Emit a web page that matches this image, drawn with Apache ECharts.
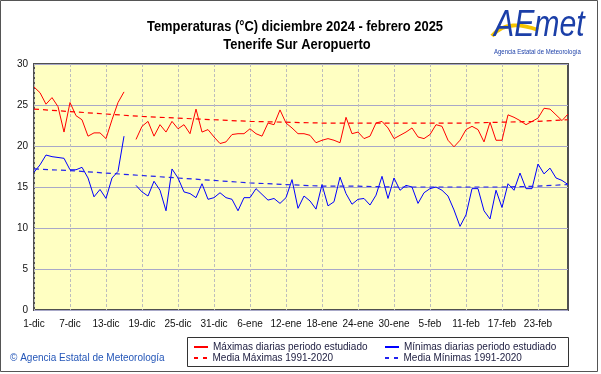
<!DOCTYPE html>
<html><head><meta charset="utf-8">
<script src="https://cdn.jsdelivr.net/npm/echarts@6/dist/echarts.min.js"></script>
<style>html,body{margin:0;padding:0;background:#fff}#c{width:601px;height:374px}</style>
</head><body><div id="c"></div>
<script>
const monthNames = ['dic', 'ene', 'feb'];
const monthDays = [31, 31, 28];
const tickEvery = 6;
const maxT = [27.2,26.5,25.1,25.9,24.8,21.7,25.3,23.7,23.2,21.2,21.6,21.6,20.9,23.2,25.3,26.6,
  null,
  20.8,22.4,23.0,21.2,22.6,21.7,23.0,22.1,22.6,21.5,24.5,21.7,22.0,21.1,20.3,
  20.5,21.4,21.5,21.5,22.1,21.5,21.2,22.8,22.6,24.4,22.8,22.2,21.5,21.5,21.3,20.4,
  20.7,20.9,20.7,20.4,23.5,21.5,21.7,20.9,21.2,22.8,23.0,22.2,20.9,21.3,21.7,22.2,
  21.1,20.9,21.4,22.6,22.4,20.7,19.9,20.7,22.0,22.4,22.0,20.5,22.9,20.7,20.7,23.8,
  23.5,23.1,22.6,23.0,23.4,24.6,24.5,23.8,23.1,23.9];
const minT = [16.8,17.7,18.9,18.7,18.6,18.5,17.1,17.1,17.4,16.1,13.8,14.7,13.6,16.1,16.9,21.2,
  null,
  15.2,14.4,13.9,15.7,14.6,12.1,17.2,16.1,14.4,14.2,13.7,15.4,13.5,13.7,14.3,
  13.7,13.5,12.1,13.7,13.7,14.8,14.1,13.4,13.6,13.0,13.7,15.9,12.4,13.9,13.3,12.3,
  15.3,12.7,13.2,16.2,14.2,12.9,13.5,13.6,12.8,14.0,16.3,13.6,16.1,14.6,15.2,15.0,
  13.0,14.3,14.8,15.0,14.6,13.9,12.2,10.2,11.6,14.8,14.8,12.1,11.1,14.6,12.5,15.4,
  14.6,16.7,14.8,14.8,17.8,16.6,17.3,16.1,15.8,15.3];
const normMaxPts = [[0,24.5],[6,24.2],[12,23.9],[18,23.6],[24,23.4],[30,23.2],[36,23.0],[42,22.9],[48,22.8],[54,22.8],[60,22.8],[66,22.8],[72,22.8],[78,22.9],[84,23.0],[89,23.2]];
const normMinPts = [[0,17.2],[6,17.0],[12,16.7],[18,16.4],[24,16.1],[30,15.8],[36,15.5],[42,15.3],[48,15.1],[54,15.1],[60,15.0],[66,15.0],[72,15.0],[78,15.0],[84,15.1],[89,15.3]];
const yTicks = {min: 0, max: 30, interval: 5};
const names = ['Máximas diarias periodo estudiado', 'Mínimas diarias periodo estudiado', 'Media Máximas 1991-2020', 'Media Mínimas 1991-2020'];
const titleLines = ['Temperaturas (°C) diciembre 2024 - febrero 2025', 'Tenerife Sur Aeropuerto'];

const categories = [];
monthNames.forEach((m, i) => { for (let d = 1; d <= monthDays[i]; d++) categories.push(d + '-' + m); });

const FONT = "'Liberation Sans', Arial, sans-serif";
const chart = echarts.init(document.getElementById('c'), null, {renderer: 'canvas'});
const SOLID = 'path://M0,0h14v2h-14z';
const DASH = 'path://M0,0h4v2h-4z M9,0h4v2h-4z';
const legendBase = {orient: 'horizontal', itemWidth: 14, itemHeight: 2, itemGap: 6, padding: 0,
  textStyle: {fontFamily: FONT, fontSize: 10, color: '#222244'}, selectedMode: false};
chart.setOption({
  animation: false,
  textStyle: {fontFamily: FONT},
  grid: {left: 34, top: 64, right: 33, bottom: 64, show: true, backgroundColor: '#FFFFC2',
    borderColor: '#505050', borderWidth: 2},
  xAxis: {type: 'category', data: categories, boundaryGap: false,
    axisLine: {show: false}, axisTick: {show: false},
    axisLabel: {interval: tickEvery - 1, fontSize: 10, color: '#111', margin: 9, fontFamily: FONT},
    splitLine: {show: true, interval: tickEvery - 1, lineStyle: {color: '#BDBDBD', type: [3, 2], width: 1}}},
  yAxis: {type: 'value', min: yTicks.min, max: yTicks.max, interval: yTicks.interval,
    axisLine: {show: false}, axisTick: {show: false},
    axisLabel: {fontSize: 10, color: '#111', margin: 6, fontFamily: FONT},
    splitLine: {lineStyle: {color: '#A8A8C8', width: 1}}},
  legend: [
    Object.assign({}, legendBase, {data: [{name: names[0], icon: SOLID, itemStyle: {color: '#FF0000'}}], left: 194, top: 342}),
    Object.assign({}, legendBase, {data: [{name: names[1], icon: SOLID, itemStyle: {color: '#0000FF'}}], left: 385, top: 342}),
    Object.assign({}, legendBase, {data: [{name: names[2], icon: DASH, itemStyle: {color: '#FF0000'}}], left: 194, top: 353}),
    Object.assign({}, legendBase, {data: [{name: names[3], icon: DASH, itemStyle: {color: '#2222EE'}}], left: 385, top: 353})
  ],
  series: [
    {name: names[0], type: 'line', data: maxT, symbol: 'none', connectNulls: false,
     lineStyle: {color: '#FF0000', width: 1}, itemStyle: {color: '#FF0000'}},
    {name: names[1], type: 'line', data: minT, symbol: 'none', connectNulls: false,
     lineStyle: {color: '#0000FF', width: 1}, itemStyle: {color: '#0000FF'}},
    {name: names[2], type: 'line', data: normMaxPts, symbol: 'none',
     lineStyle: {color: '#FF0000', width: 1.2, type: [5, 4]}, itemStyle: {color: '#FF0000'}},
    {name: names[3], type: 'line', data: normMinPts, symbol: 'none',
     lineStyle: {color: '#2222EE', width: 1.2, type: [5, 4]}, itemStyle: {color: '#2222EE'}}
  ],
  graphic: [
    {type: 'rect', shape: {x: 0.5, y: 0.5, width: 597, height: 371}, silent: true,
     style: {fill: null, stroke: '#555', lineWidth: 1}},
    {type: 'text', x: 295, y: 27, scaleX: 0.86, silent: true,
     style: {text: titleLines[0], textAlign: 'center', textVerticalAlign: 'middle', fill: '#000', font: 'bold 15px ' + FONT}},
    {type: 'text', x: 297, y: 45, scaleX: 0.86, silent: true,
     style: {text: titleLines[1], textAlign: 'center', textVerticalAlign: 'middle', fill: '#000', font: 'bold 15px ' + FONT}},
    {type: 'rect', shape: {x: 187.5, y: 337.5, width: 381, height: 29}, silent: true,
     style: {fill: null, stroke: '#333', lineWidth: 1}},
    {type: 'text', x: 10, y: 358, silent: true,
     style: {text: '© Agencia Estatal de Meteorología', textVerticalAlign: 'middle', fill: '#2456B8', font: '10px ' + FONT}},
    {type: 'bezierCurve', silent: true,
     shape: {x1: 492, y1: 36, x2: 538, y2: 30, cpx1: 503, cpy1: 22, cpx2: 522, cpy2: 24},
     style: {stroke: '#F5C400', lineWidth: 4, fill: null}},
    {type: 'text', x: 494, y: 8, scaleX: 0.84, silent: true,
     style: {text: 'AEmet', fill: '#1B3FA8', font: 'italic 36px ' + FONT}},
    {type: 'text', x: 494, y: 52, scaleX: 0.8, silent: true,
     style: {text: 'Agencia Estatal de Meteorología', textVerticalAlign: 'middle', fill: '#1B3FA8', font: '7.5px ' + FONT}}
  ]
});
</script></body></html>
